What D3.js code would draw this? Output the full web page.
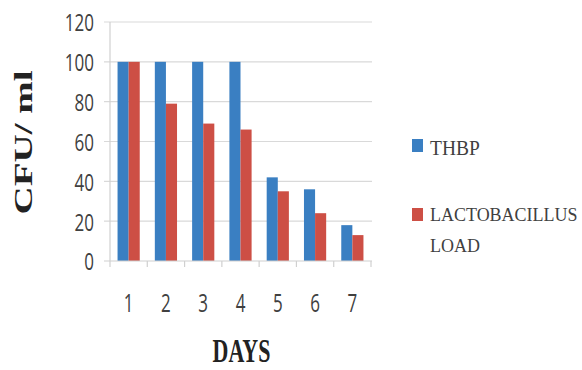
<!DOCTYPE html>
<html><head><meta charset="utf-8">
<script src="https://cdn.jsdelivr.net/npm/d3@7"></script>
<style>body{margin:0;background:#fff}</style>
</head><body>
<svg id="c" width="582" height="370"></svg>
<script>
const days = ["1","2","3","4","5","6","7"];
const seriesNames = ["THBP","LACTOBACILLUS LOAD"];
const thbp = [100,100,100,100,42,36,18];
const lacto = [100,79,69,66,35,24,13];
const yTicks = [0,20,40,60,80,100,120];
const colors = ["#3a7fc2","#cd4f45"];

const svg = d3.select("#c");
const L = 110, R = 371, T = 22, B = 261;
const x0 = d3.scaleBand().domain(days).range([L,R]).padding(0);
const x1 = d3.scaleBand().domain(seriesNames).range([0,x0.bandwidth()]).paddingInner(0).paddingOuter(0.68);
const y = d3.scaleLinear().domain([0,120]).range([B,T]);

// gridlines
svg.append("g").selectAll("line").data(yTicks.filter(d=>d>0)).join("line")
  .attr("x1",L-6).attr("x2",R+1).attr("y1",d=>y(d)).attr("y2",d=>y(d))
  .attr("stroke","#d9d9d9").attr("stroke-width",1.2);
svg.append("line").attr("x1",L).attr("x2",L).attr("y1",T).attr("y2",B)
  .attr("stroke","#d0d0d0").attr("stroke-width",1.2);

// bars
const data = days.map((d,i)=>({day:d, vals:[thbp[i],lacto[i]]}));
const g = svg.append("g").selectAll("g").data(data).join("g")
  .attr("transform",d=>`translate(${x0(d.day)},0)`);
g.selectAll("rect").data(d=>d.vals.map((v,j)=>({s:seriesNames[j],v,j}))).join("rect")
  .attr("x",d=>x1(d.s)).attr("width",x1.bandwidth())
  .attr("y",d=>y(d.v)).attr("height",d=>B-y(d.v))
  .attr("fill",d=>colors[d.j]);

// x axis
svg.append("line").attr("x1",L-6).attr("x2",R+1).attr("y1",B).attr("y2",B)
  .attr("stroke","#d0d0d0").attr("stroke-width",1.2);
const bounds = days.map(d=>x0(d)).concat([R]);
svg.append("g").selectAll("line").data(bounds).join("line")
  .attr("x1",d=>d).attr("x2",d=>d).attr("y1",B).attr("y2",B+6)
  .attr("stroke","#d0d0d0").attr("stroke-width",1.2);

// tick labels (vertically stretched like the reference)
svg.append("g").selectAll("text").data(yTicks).join("text")
  .attr("transform",d=>`translate(94,${y(d)+1}) scale(1,1.38)`)
  .attr("dy","0.36em").attr("text-anchor","end")
  .attr("font-family","Open Sans, sans-serif").attr("font-size",17).attr("fill","#404040")
  .text(d=>d);
svg.append("g").selectAll("text").data(days).join("text")
  .attr("transform",d=>`translate(${x0(d)+x0.bandwidth()/2},302.5) scale(1,1.5)`)
  .attr("dy","0.36em").attr("text-anchor","middle")
  .attr("font-family","Open Sans, sans-serif").attr("font-size",17).attr("fill","#404040")
  .text(d=>d);

// axis titles
svg.append("text").attr("transform","translate(32,142.5) scale(1,1.5) rotate(-90)")
  .attr("text-anchor","middle").attr("font-family","Liberation Serif, serif").attr("font-weight","bold")
  .attr("font-size",26).attr("fill","#222").text("CFU/ ml");
svg.append("text").attr("transform","translate(241.5,362) scale(1,1.5)").attr("text-anchor","middle")
  .attr("font-family","Liberation Serif, serif").attr("font-weight","bold")
  .attr("font-size",22).attr("fill","#222").text("DAYS");

// legend
const leg = svg.append("g");
leg.append("rect").attr("x",412).attr("y",139).attr("width",11).attr("height",13).attr("fill",colors[0]);
leg.append("text").attr("transform","translate(430,154.5) scale(1,1.1)").attr("font-family","Liberation Serif, serif")
  .attr("font-size",19.5).attr("fill","#404040").text(seriesNames[0]);
leg.append("rect").attr("x",412).attr("y",208).attr("width",11).attr("height",13).attr("fill",colors[1]);
leg.append("text").attr("transform","translate(430,221) scale(1,1.1)").attr("font-family","Liberation Serif, serif")
  .attr("font-size",18).attr("fill","#404040").text("LACTOBACILLUS");
leg.append("text").attr("transform","translate(430,252) scale(1,1.1)").attr("font-family","Liberation Serif, serif")
  .attr("font-size",18).attr("fill","#404040").text("LOAD");
</script>
</body></html>
